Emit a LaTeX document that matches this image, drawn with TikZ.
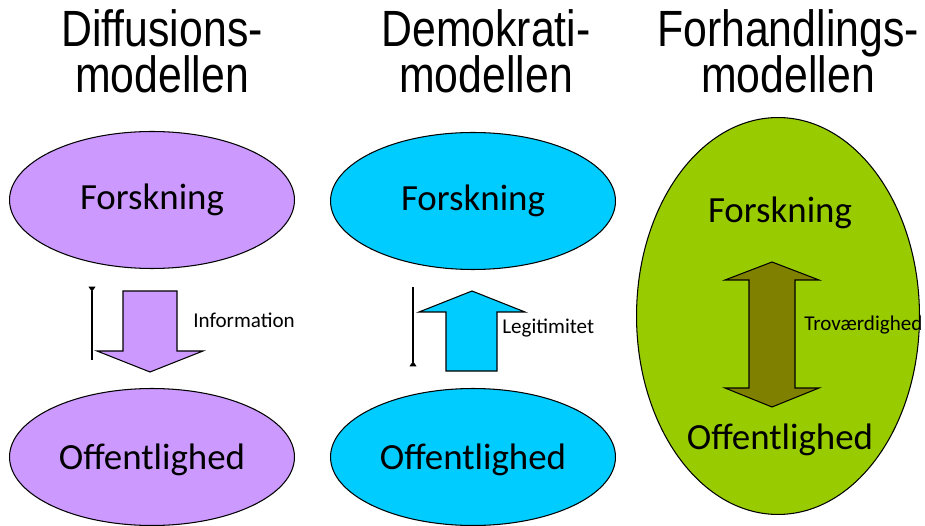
\documentclass[tikz,border=0pt]{standalone}
\usepackage{fontspec}
\setmainfont{Carlito}
\newfontfamily\titlefont[FakeStretch=0.84]{Liberation Sans}
\usetikzlibrary{shapes,arrows.meta}
\definecolor{lilla}{HTML}{CC99FF}
\definecolor{blaa}{HTML}{00CCFF}
\definecolor{groen}{HTML}{99CC00}
\definecolor{oliven}{HTML}{808000}
\newcommand{\titlesize}{\titlefont\fontsize{29}{26}\selectfont\lineskiplimit=-50pt\relax}

\begin{document}
\begin{tikzpicture}[x=0.02cm,y=-0.02cm,
        model/.style={ellipse,draw=black,line width=0.6pt,inner sep=0,minimum width=5.7cm,minimum height=2.74cm,font=\fontsize{21}{25}\selectfont},
        modeltitle/.style={align=center,inner sep=0,anchor=north,font=\titlesize},
        bigarrow/.style={draw=black,line width=0.6pt,line join=miter},
        arrowtext/.style={anchor=west,inner sep=0,font=\fontsize{12}{14}\selectfont},
        thinline/.style={line width=0.6pt}]
        \useasboundingbox (0,0) rectangle (925,526);
        % titles
        \node[modeltitle] (t1) at (162,9.5) {Diffusions-\\modellen};
        \node[modeltitle] (t2) at (486,9.5) {Demokrati-\\modellen};
        \node[modeltitle] (t3) at (788,9.5) {Forhandlings-\\modellen};
        % ellipses
        \node[model,fill=lilla] (forsk1) at (152,200) {Forskning};
        \node[model,fill=lilla,text depth=0pt] (offent1) at (152,457) {Offentlighed};
        \node[model,fill=blaa]  (forsk2) at (473,201) {Forskning};
        \node[model,fill=blaa,text depth=0pt]  (offent2) at (473,457) {Offentlighed};
        \node[model,fill=groen,minimum width=5.66cm,minimum height=7.94cm] (forhandl) at (778,316) {};
        \node[font=\fontsize{21}{25}\selectfont] (forsk3) at (780,213) {Forskning};
        \node[font=\fontsize{21}{25}\selectfont] (offent3) at (780,440) {Offentlighed};
        % big arrows
        \draw[bigarrow,fill=lilla] (123,291) -- (177,291) -- (177,351) -- (203,351) -- (150,372)
          -- (97,351) -- (123,351) -- cycle;
        \draw[bigarrow,fill=blaa] (446,371) -- (497,371) -- (497,312) -- (525,312) -- (472,291)
          -- (419,312) -- (446,312) -- cycle;
        \draw[bigarrow,fill=oliven] (749,280) -- (725,280) -- (772,262) -- (819,280) -- (795,280)
          -- (795,388) -- (819,388) -- (772,407) -- (725,388) -- (749,388) -- cycle;
        \node[arrowtext] (info)  at (193,320) {Information};
        \node[arrowtext] (legit) at (502,328) {Legitimitet};
        \node[arrowtext] (trov)  at (804,325) {Troværdighed};
        % thin lines
        \coordinate (l1top) at (92,283);
        \coordinate (l1bot) at (92,360);
        \coordinate (l2top) at (413,287);
        \coordinate (l2bot) at (413,370);
        \draw[thinline,{Triangle[reversed,length=3pt,width=4pt,sep=2pt]}-] (l1top) -- (l1bot);
        \draw[thinline,-{Triangle[reversed,length=3pt,width=4pt,sep=2pt]}] (l2top) -- (l2bot);
      \end{tikzpicture}
\end{document}
